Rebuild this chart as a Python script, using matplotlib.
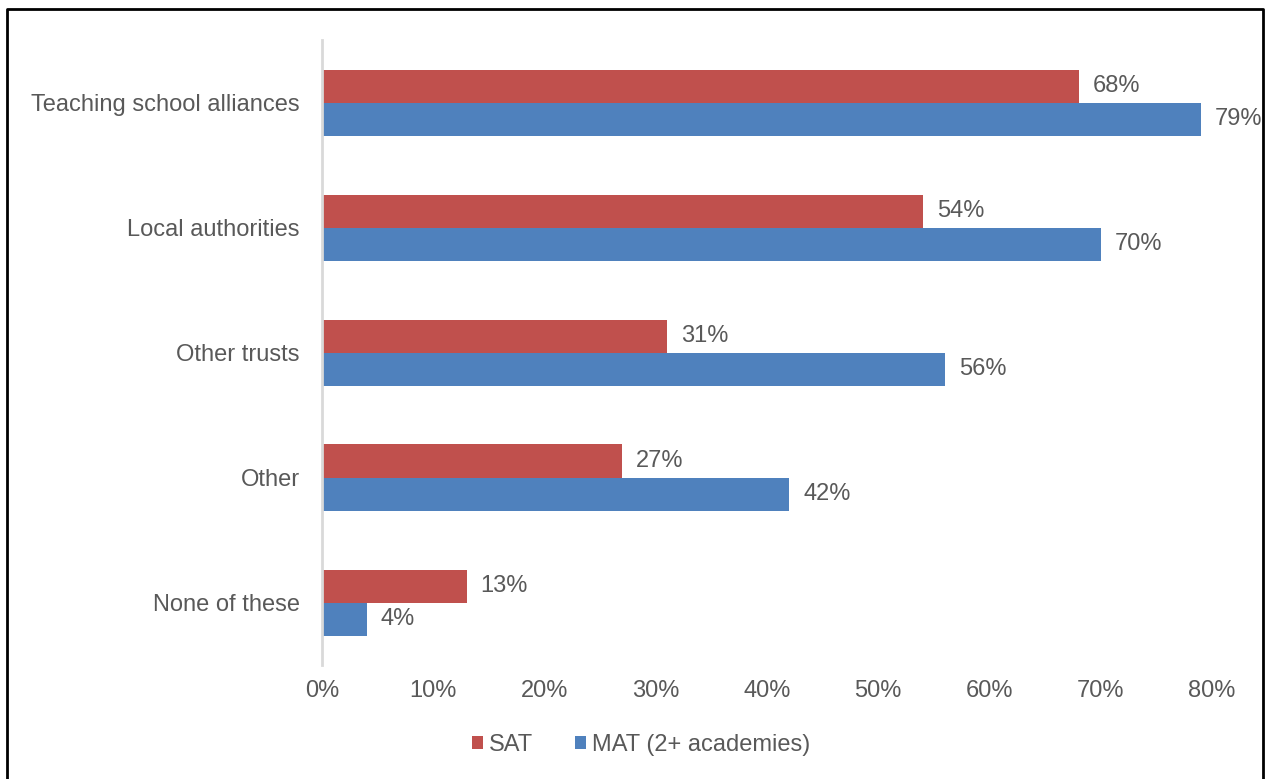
import matplotlib
matplotlib.use("Agg")
import matplotlib.pyplot as plt
from matplotlib.lines import Line2D
import numpy as np

categories = ["Teaching school alliances", "Local authorities", "Other trusts", "Other", "None of these"]
sat = [68, 54, 31, 27, 13]
mat = [79, 70, 56, 42, 4]
series_names = ["SAT", "MAT (2+ academies)"]
xticks = [0, 10, 20, 30, 40, 50, 60, 70, 80]

RED = "#C0504D"
BLUE = "#4F81BD"
TXT = "#595959"
plt.rcParams['font.family'] = ['Liberation Sans', 'DejaVu Sans']

fig = plt.figure(figsize=(12.66, 7.79), dpi=100)
ax = fig.add_axes([322/1266, 114/779, (1212-322)/1266, (665-40)/779])

y = np.arange(len(categories))
h = 0.264
b1 = ax.barh(y - h/2, sat, height=h, color=RED, label=series_names[0])
b2 = ax.barh(y + h/2, mat, height=h, color=BLUE, label=series_names[1])

fs = 17
for bars, vals in ((b1, sat), (b2, mat)):
    for bar, v in zip(bars, vals):
        ax.annotate(f"{v}%", (bar.get_width(), bar.get_y() + bar.get_height()/2),
                    xytext=(10, 0), textcoords="offset points", va="center", ha="left",
                    fontsize=fs, color=TXT)

ax.set_xlim(0, 80)
ax.set_ylim(4.5, -0.5)
ax.set_xticks(xticks)
ax.set_xticklabels([f"{t}%" for t in xticks], fontsize=fs, color=TXT)
ax.set_yticks(y)
ax.set_yticklabels(categories, fontsize=fs, color=TXT)
ax.tick_params(axis='both', length=0)
ax.tick_params(axis='x', pad=11)
ax.tick_params(axis='y', pad=16)
for s in ["top", "right", "bottom"]:
    ax.spines[s].set_visible(False)
ax.spines["left"].set_color("#D9D9D9")
ax.spines["left"].set_linewidth(2)

leg = fig.legend(handles=[b1, b2], labels=series_names, loc="center", bbox_to_anchor=(641/1266, 1-745/779),
                 ncol=2, frameon=False, fontsize=fs, handlelength=0.45, handleheight=0.45,
                 handletextpad=0.25, columnspacing=1.8, labelcolor=TXT)

xl, xr, yt = 7/1266, 1263/1266, 1 - 9/779
fig.add_artist(Line2D([xl, xl, xr, xr], [0, yt, yt, 0], transform=fig.transFigure,
                      color="black", linewidth=2))
fig.savefig("out.png", dpi=100)
